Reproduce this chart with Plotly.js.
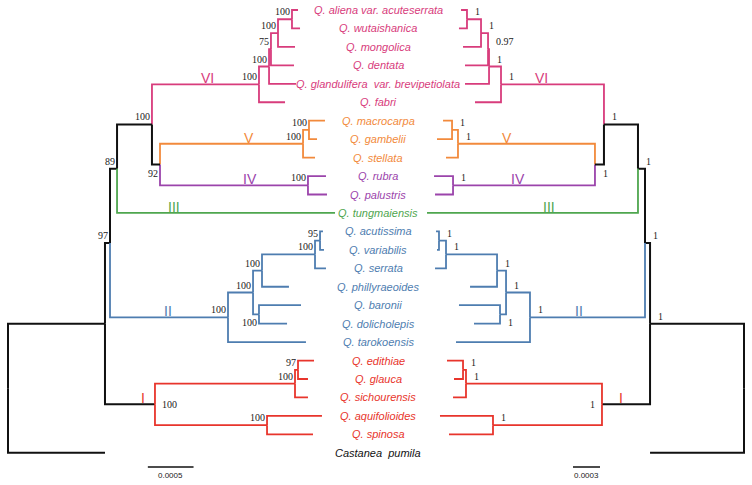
<!DOCTYPE html>
<html><head><meta charset="utf-8">
<script src="https://cdn.plot.ly/plotly-3.0.1.min.js"></script>
<style>html,body{margin:0;padding:0;background:#fff;}#chart{width:752px;height:485px;}</style>
</head><body><div id="chart"></div>
<script>
// ---------------- DATA ----------------
const taxa = ['Q. aliena var. acuteserrata','Q. wutaishanica','Q. mongolica','Q. dentata',
  'Q. glandulifera\u00a0\u00a0var. brevipetiolata','Q. fabri','Q. macrocarpa','Q. gambelii','Q. stellata',
  'Q. rubra','Q. palustris','Q. tungmaiensis','Q. acutissima','Q. variabilis','Q. serrata',
  'Q. phillyraeoides','Q. baronii','Q. dolicholepis','Q. tarokoensis','Q. edithiae','Q. glauca',
  'Q. sichourensis','Q. aquifolioides','Q. spinosa','Castanea\u00a0\u00a0pumila'];
const taxonClade = ['VI','VI','VI','VI','VI','VI','V','V','V','IV','IV','III',
  'II','II','II','II','II','II','II','I','I','I','I','I','outgroup'];
// tip depths (substitutions/site from root), left = ML/bootstrap tree, right = Bayesian tree
const leftTipDepth = [0.003173,0.003195,0.003140,0.003129,0.003151,0.003031,0.003468,0.003381,0.003359,
  0.003479,0.003490,0.003578,0.003446,0.003457,0.003479,0.003074,0.003206,0.003053,0.003260,
  0.003348,0.003282,0.003282,0.003435,0.003337,0.001061];
const rightTipDepth = [0.003144,0.003167,0.003122,0.003100,0.003100,0.002989,0.003344,0.003411,0.003311,
  0.003444,0.003433,0.003522,0.003422,0.003411,0.003433,0.003044,0.003167,0.003000,0.003200,
  0.003300,0.003222,0.003233,0.003378,0.003278,0.001044];
// internal nodes (children: taxon index or node id)
const nodeIds = ['A','B','C','D','VI','MG','V','IV','N5','N4','N3','P','Q','R','T','S','II','N2','EG','U','W','I','N1','root'];
const nodeChildren = [[0,1],['A',2],['B',3],['C',4],['D',5],[6,7],['MG',8],[9,10],['V','IV'],['VI','N5'],
  ['N4',11],[12,13],['P',14],['Q',15],[16,17],['R','T'],['S',18],['N3','II'],[19,20],['EG',21],[22,23],
  ['U','W'],['N2','I'],['N1',24]];
const leftNodeDepth = [0.003107,0.002954,0.002877,0.002856,0.002746,0.003293,0.003228,0.003282,0.001663,
  0.001575,0.001193,0.003414,0.003359,0.002779,0.002746,0.002681,0.002407,0.001116,0.003173,0.003140,
  0.002834,0.001608,0.001061,0];
const rightNodeDepth = [0.003078,0.002922,0.002844,0.002833,0.002700,0.003244,0.003178,0.003233,0.001656,
  0.001556,0.001178,0.003389,0.003311,0.002744,0.002711,0.002644,0.002378,0.001100,0.003122,0.003089,
  0.002789,0.001578,0.001044,0];
const leftSupport = ['100','100','75','100','100','100','100','100','92','100','89','95','100','100','100',
  '100','100','97','97','100','100','100','',''];
const rightSupport = ['1','1','0.97','1','1','1','1','1','1','1','1','1','1','1','1','1','1','1','1','1',
  '1','1','1',''];
const cladeNames = ['VI','V','IV','III','II','I'];
const scaleBarLeft = 0.0005;
const scaleBarRight = 0.0003;

// ---------------- STYLE ----------------
const cladeColor = {VI:'#d83c7c', V:'#f28a3c', IV:'#9b44ab', III:'#4fa64f', II:'#4e7db0', I:'#e8352c', outgroup:'#111111'};
const stemColored = {VI:true, V:true, IV:true, III:true, II:true, I:false};
const BLACK = '#111111';
const leftRange = [-8/91400, 744/91400];
const rightRange = [744/90000, -8/90000];
const yRange = [(485-10)/18.45, (0-10)/18.45];
const labelFrac = {left:{VI:0.52,V:0.62,IV:0.61,III:0.26,II:0.49,I:0.76}, right:{VI:0.61,V:0.64,IV:0.54,III:0.42,II:0.57,I:0.6}};
const supportExceptions = {N5:'below', T:'below', I:'outside'};
const labelCenterX = 378/752;
const scaleBarRow = (467-10)/18.45;
const scaleBarStart = {left:0.00153, right:0.0016};

// ---------------- BUILD ----------------
function buildTree(nodeDepth, tipDepth) {
  const info = {};
  nodeIds.forEach((id, k) => {
    const ch = nodeChildren[k].map(c => typeof c === 'number' ? {depth: tipDepth[c], y: c, tips: [c], id: c} : info[c]);
    info[id] = {id, depth: nodeDepth[k], y: (ch[0].y + ch[ch.length-1].y)/2, tips: [].concat(...ch.map(x => x.tips)), children: ch};
  });
  return info;
}
function cladeOf(tips) {
  const c = taxonClade[tips[0]];
  return tips.every(t => taxonClade[t] === c) ? c : null;
}
function segColor(node, child) {
  const cc = cladeOf(child.tips);
  if (!cc || cc === 'outgroup') return BLACK;
  const pc = cladeOf(node.tips);
  if (pc === cc) return cladeColor[cc];
  return stemColored[cc] ? cladeColor[cc] : BLACK;
}

const traces = [];
const annotations = [];

function drawTree(side, nodeDepth, tipDepth, support) {
  const tree = buildTree(nodeDepth, tipDepth);
  const axis = side === 'left' ? 'x' : 'x2';
  const groups = {};
  nodeIds.forEach(id => {
    const n = tree[id];
    n.children.forEach(ch => {
      const col = segColor(n, ch);
      if (!groups[col]) groups[col] = {x: [], y: []};
      groups[col].x.push(n.depth, n.depth, ch.depth, null);
      groups[col].y.push(n.y, ch.y, ch.y, null);
    });
  });
  Object.keys(groups).forEach(col => {
    traces.push({type:'scatter', mode:'lines', x: groups[col].x, y: groups[col].y, xaxis: axis, yaxis: 'y',
      line: {color: col, width: col === BLACK ? 2 : 1.8}, hoverinfo: 'skip', connectgaps: false});
  });
  // support values
  const sgn = side === 'left' ? 1 : -1;
  nodeIds.forEach((id, k) => {
    if (!support[k]) return;
    const n = tree[id];
    const ex = supportExceptions[id];
    const a = {x: n.depth, y: n.y, xref: axis, yref: 'y', text: support[k], showarrow: false,
      font: {family: '"Liberation Serif", "Times New Roman", serif', size: 10, color: '#222'}, borderpad: 0};
    if (ex === 'outside') {
      a.xanchor = side === 'left' ? 'left' : 'right'; a.yanchor = 'middle'; a.xshift = 6 * sgn; a.yshift = 0;
    } else {
      a.xanchor = side === 'left' ? 'right' : 'left';
      a.xshift = side === 'left' ? -1 : 7;
      if (ex === 'below') { a.yanchor = 'top'; a.yshift = -2; } else { a.yanchor = 'bottom'; a.yshift = 1; }
    }
    annotations.push(a);
  });
  // clade labels on stems
  cladeNames.forEach(cn => {
    let root = null, parent = null;
    nodeIds.forEach(id => {
      const n = tree[id];
      n.children.forEach(ch => {
        if (cladeOf(ch.tips) === cn && cladeOf(n.tips) !== cn) { root = ch; parent = n; }
      });
    });
    if (!root) return;
    const f = labelFrac[side][cn];
    annotations.push({x: parent.depth + f * (root.depth - parent.depth), y: root.y, xref: axis, yref: 'y',
      text: cn, showarrow: false, xanchor: 'center', yanchor: 'bottom', yshift: -3, borderpad: 0,
      font: {family: 'Arial, "Liberation Sans", sans-serif', size: 14, color: cladeColor[cn]}});
  });
}

drawTree('left', leftNodeDepth, leftTipDepth, leftSupport);
drawTree('right', rightNodeDepth, rightTipDepth, rightSupport);

// taxon names
taxa.forEach((t, i) => {
  annotations.push({x: labelCenterX, y: i, xref: 'paper', yref: 'y', text: '<i>' + t + '</i>', showarrow: false,
    xanchor: 'center', yanchor: 'middle', font: {family: 'Arial, "Liberation Sans", sans-serif', size: 11, color: cladeColor[taxonClade[i]]}});
});

// scale bars
[['left', 'x', scaleBarLeft], ['right', 'x2', scaleBarRight]].forEach(([side, axis, len]) => {
  const s = scaleBarStart[side];
  traces.push({type:'scatter', mode:'lines', x: [s, s + len], y: [scaleBarRow, scaleBarRow], xaxis: axis, yaxis: 'y',
    line: {color: BLACK, width: 1.5}, hoverinfo: 'skip'});
  annotations.push({x: s + len/2, y: scaleBarRow, xref: axis, yref: 'y', text: String(len), showarrow: false,
    xanchor: 'center', yanchor: 'top', yshift: -2, font: {family: 'Arial, "Liberation Sans", sans-serif', size: 8, color: '#222'}});
});

const layout = {
  width: 752, height: 485, margin: {l:0, r:0, t:0, b:0},
  paper_bgcolor: '#ffffff', plot_bgcolor: '#ffffff', showlegend: false,
  xaxis: {range: leftRange, visible: false, fixedrange: true},
  xaxis2: {range: rightRange, overlaying: 'x', visible: false, fixedrange: true},
  yaxis: {range: yRange, visible: false, fixedrange: true},
  annotations: annotations
};
Plotly.newPlot('chart', traces, layout, {staticPlot: true, displayModeBar: false});
</script></body></html>
